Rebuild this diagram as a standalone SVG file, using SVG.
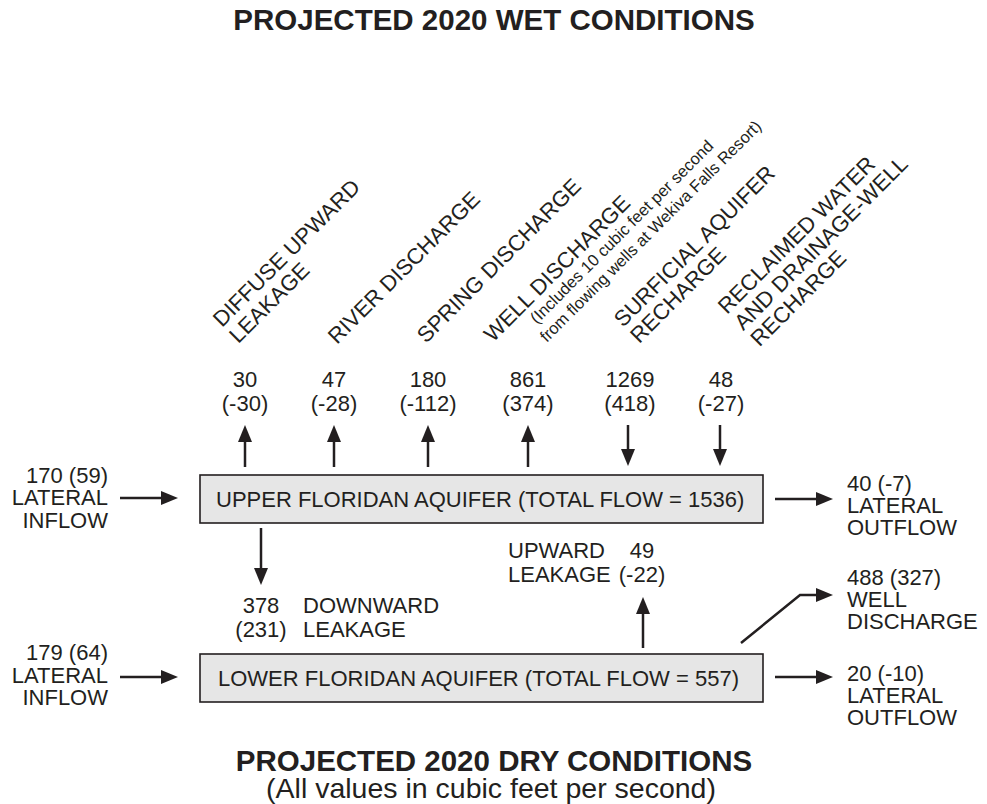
<svg xmlns="http://www.w3.org/2000/svg" width="987" height="804" viewBox="0 0 987 804">
<style>
text{font-family:"Liberation Sans",Arial,Helvetica,sans-serif;fill:#231f20;font-size:22px}
.t{font-weight:bold;font-size:29.5px}
.sub{font-size:28.5px}
.sm{font-size:16.5px}
.mid{text-anchor:middle}
.end{text-anchor:end}
.box{fill:#e6e6e6;stroke:#231f20;stroke-width:1.6}
.c{fill:none;stroke:#231f20;stroke-width:2.5;marker-end:url(#ah)}
</style>
<defs>
<marker id="ah" viewBox="0 0 17 14" refX="9" refY="7" markerWidth="17" markerHeight="14" markerUnits="userSpaceOnUse" orient="auto">
<path d="M0,0 L17,7 L0,14 z" fill="#231f20"/>
</marker>
</defs>
<rect width="987" height="804" fill="#fff"/>
<g id="title-wet"><text class="t mid" x="494" y="30">PROJECTED 2020 WET CONDITIONS</text></g>
<g id="title-dry"><text class="t mid" x="494" y="771">PROJECTED 2020 DRY CONDITIONS</text>
<text class="sub mid" x="491" y="798">(All values in cubic feet per second)</text></g>

<g id="lbl-diffuse" transform="translate(222,328) rotate(-45)"><text x="0" y="0">DIFFUSE UPWARD</text><text x="0" y="23">LEAKAGE</text></g>
<g id="lbl-river" transform="translate(337,345) rotate(-45)"><text x="0" y="0">RIVER DISCHARGE</text></g>
<g id="lbl-spring" transform="translate(426,344) rotate(-45)"><text x="0" y="0">SPRING DISCHARGE</text></g>
<g id="lbl-well" transform="translate(493,343) rotate(-45)"><text x="0" y="0">WELL DISCHARGE</text><text class="sm" x="44" y="18">(Includes 10 cubic feet per second</text><text class="sm" x="38" y="38">from flowing wells at Wekiva Falls Resort)</text></g>
<g id="lbl-surficial" transform="translate(623,328) rotate(-45)"><text x="0" y="0">SURFICIAL AQUIFER</text><text x="0" y="23">RECHARGE</text></g>
<g id="lbl-reclaimed" transform="translate(727,315) rotate(-45)"><text x="0" y="0">RECLAIMED WATER</text><text x="0" y="23">AND DRAINAGE-WELL</text><text x="0" y="46">RECHARGE</text></g>

<g id="val-diffuse"><text class="mid" x="245" y="387">30</text><text class="mid" x="245" y="411">(-30)</text></g>
<g id="val-river"><text class="mid" x="334" y="387">47</text><text class="mid" x="334" y="411">(-28)</text></g>
<g id="val-spring"><text class="mid" x="428" y="387">180</text><text class="mid" x="428" y="411">(-112)</text></g>
<g id="val-well"><text class="mid" x="528" y="387">861</text><text class="mid" x="528" y="411">(374)</text></g>
<g id="val-surficial"><text class="mid" x="630" y="387">1269</text><text class="mid" x="630" y="411">(418)</text></g>
<g id="val-reclaimed"><text class="mid" x="721" y="387">48</text><text class="mid" x="721" y="411">(-27)</text></g>

<g id="upper-aquifer"><rect class="box" x="200" y="475" width="563" height="48"/><text x="216" y="507">UPPER FLORIDAN AQUIFER (TOTAL FLOW = 1536)</text></g>
<g id="lower-aquifer"><rect class="box" x="200" y="654" width="563" height="48"/><text x="218" y="686">LOWER FLORIDAN AQUIFER (TOTAL FLOW = 557)</text></g>

<g id="upper-inflow"><text class="end" x="108" y="483">170 (59)</text><text class="end" x="108" y="505">LATERAL</text><text class="end" x="108" y="528">INFLOW</text></g>
<g id="upper-outflow"><text x="847" y="491">40 (-7)</text><text x="847" y="513">LATERAL</text><text x="847" y="535">OUTFLOW</text></g>
<g id="lower-inflow"><text class="end" x="108" y="660">179 (64)</text><text class="end" x="108" y="683">LATERAL</text><text class="end" x="108" y="705">INFLOW</text></g>
<g id="lower-outflow"><text x="847" y="681">20 (-10)</text><text x="847" y="703">LATERAL</text><text x="847" y="725">OUTFLOW</text></g>
<g id="lower-well"><text x="847" y="585">488 (327)</text><text x="847" y="607">WELL</text><text x="847" y="629">DISCHARGE</text></g>
<g id="downward-leakage"><text class="mid" x="261" y="613">378</text><text class="mid" x="261" y="637">(231)</text><text x="303" y="613">DOWNWARD</text><text x="303" y="637">LEAKAGE</text></g>
<g id="upward-leakage"><text x="508" y="558">UPWARD</text><text x="508" y="582">LEAKAGE</text><text class="mid" x="642" y="558">49</text><text class="mid" x="642" y="582">(-22)</text></g>

<g id="connectors">
<path class="c" d="M245,467 V433"/>
<path class="c" d="M334,467 V433"/>
<path class="c" d="M428,467 V433"/>
<path class="c" d="M528,467 V433"/>
<path class="c" d="M628,425 V458"/>
<path class="c" d="M720,425 V458"/>
<path class="c" d="M120,498 H170"/>
<path class="c" d="M775,499 H825"/>
<path class="c" d="M261,528 V577"/>
<path class="c" d="M643,648 V605"/>
<path class="c" d="M741,643 L800,595 H825"/>
<path class="c" d="M120,677 H170"/>
<path class="c" d="M775,677 H825"/>
</g>
</svg>
